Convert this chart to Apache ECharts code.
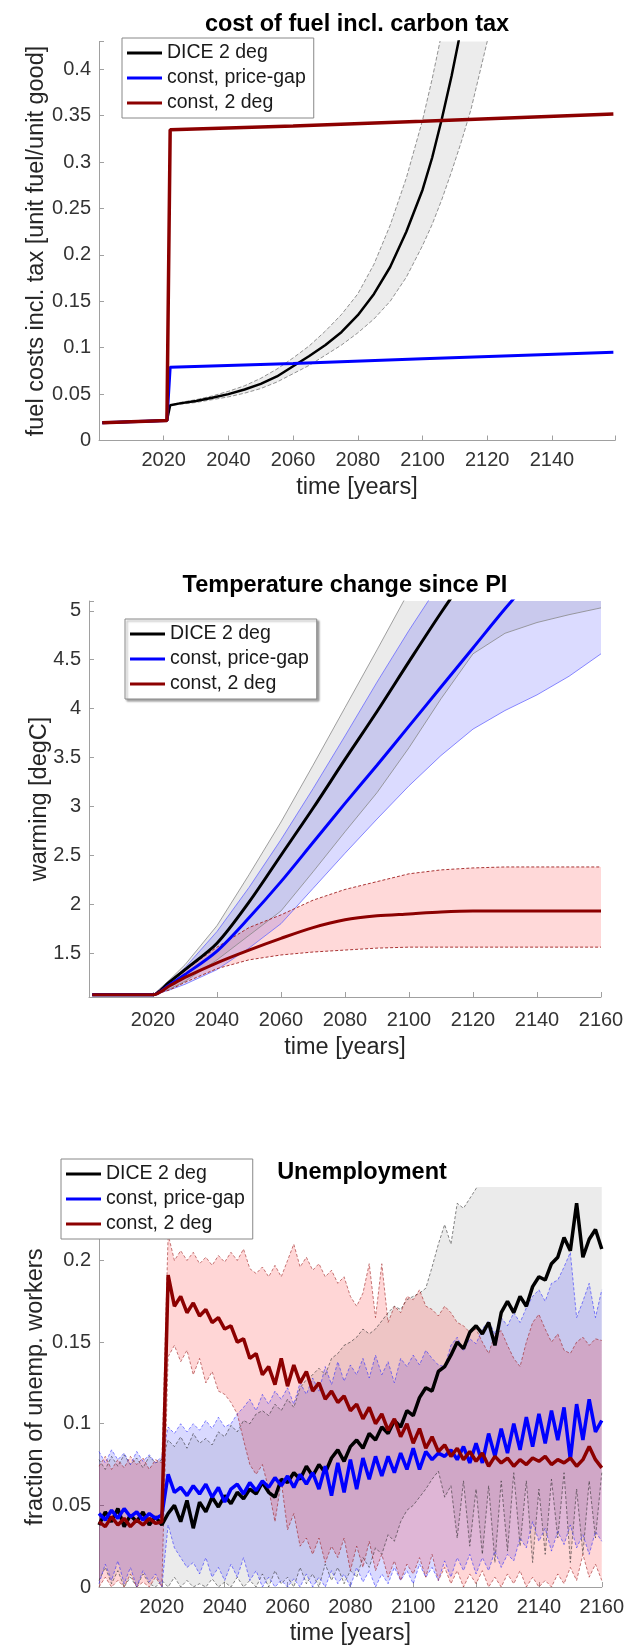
<!DOCTYPE html>
<html>
<head>
<meta charset="utf-8">
<script src="https://cdn.jsdelivr.net/npm/echarts@6/dist/echarts.min.js"></script>
<style>
  html, body { margin: 0; padding: 0; background: #fff; }
  #chart { width: 627px; height: 1647px; }
</style>
</head>
<body>
<div id="chart"></div>
<script>
// ---------- panel 1: cost of fuel incl. carbon tax ----------
const fuelYears  = [2001, 2021, 2022, 2025, 2030, 2035, 2040, 2045, 2050, 2055, 2060, 2065, 2070, 2075, 2080,
                    2085, 2090, 2095, 2100, 2103, 2106, 2109, 2112, 2115, 2120, 2130, 2140, 2150, 2159];
const fuelDice   = [0.019, 0.0215, 0.038, 0.040, 0.0425, 0.046, 0.050, 0.055, 0.061, 0.069, 0.080, 0.091, 0.103, 0.117, 0.135,
                    0.158, 0.187, 0.225, 0.270, 0.305, 0.347, 0.393, 0.445, 0.50, 0.62, 0.95, 1.4, 2.1, 3.0];
const fuelDiceHi = [0.019, 0.0215, 0.038, 0.041, 0.044, 0.048, 0.053, 0.059, 0.067, 0.077, 0.089, 0.102, 0.118, 0.136, 0.158,
                    0.190, 0.232, 0.283, 0.345, 0.390, 0.440, 0.50, 0.56, 0.65, 0.80, 1.2, 1.7, 2.4, 3.4];
const fuelDiceLo = [0.019, 0.0215, 0.038, 0.039, 0.041, 0.044, 0.047, 0.051, 0.056, 0.063, 0.072, 0.081, 0.092, 0.103, 0.116,
                    0.131, 0.150, 0.176, 0.210, 0.233, 0.260, 0.290, 0.322, 0.357, 0.430, 0.62, 0.90, 1.3, 1.8];
const fuelFlatYears = [2001, 2021, 2022, 2060, 2100, 2159];
const fuelGap    = [0.019, 0.0215, 0.079, 0.083, 0.088, 0.095];
const fuel2deg   = [0.019, 0.0215, 0.335, 0.339, 0.344, 0.352];

// ---------- panel 2: temperature change since PI ----------
const tempYears  = [2001, 2020, 2025, 2030, 2040, 2050, 2060, 2070, 2080, 2090, 2100, 2110, 2120, 2130, 2140, 2150, 2160];
const tempDice   = [1.072, 1.072, 1.20, 1.33, 1.60, 2.02, 2.50, 2.98, 3.48, 3.97, 4.48, 4.98, 5.45, 5.90, 6.30, 6.70, 7.10];
const tempDiceHi = [1.072, 1.072, 1.22, 1.38, 1.78, 2.30, 2.84, 3.42, 4.01, 4.60, 5.20, 5.70, 6.20, 6.60, 7.00, 7.40, 7.80];
const tempDiceLo = [1.072, 1.072, 1.13, 1.21, 1.43, 1.68, 1.93, 2.33, 2.74, 3.14, 3.60, 4.10, 4.56, 4.77, 4.88, 4.96, 5.03];
const tempGap    = [1.072, 1.072, 1.17, 1.28, 1.52, 1.86, 2.23, 2.63, 3.03, 3.42, 3.82, 4.22, 4.62, 5.02, 5.40, 5.80, 6.20];
const tempGapHi  = [1.072, 1.072, 1.20, 1.35, 1.72, 2.17, 2.66, 3.18, 3.72, 4.27, 4.80, 5.30, 5.80, 6.30, 6.80, 7.20, 7.60];
const tempGapLo  = [1.072, 1.072, 1.12, 1.18, 1.33, 1.55, 1.80, 2.16, 2.52, 2.87, 3.21, 3.52, 3.79, 3.98, 4.14, 4.33, 4.56];
const temp2deg   = [1.072, 1.072, 1.16, 1.25, 1.40, 1.53, 1.65, 1.76, 1.84, 1.88, 1.90, 1.92, 1.93, 1.93, 1.93, 1.93, 1.93];
const temp2degHi = [1.072, 1.072, 1.20, 1.32, 1.56, 1.76, 1.89, 2.04, 2.15, 2.23, 2.31, 2.35, 2.37, 2.38, 2.38, 2.38, 2.38];
const temp2degLo = [1.072, 1.072, 1.12, 1.20, 1.34, 1.43, 1.48, 1.51, 1.53, 1.55, 1.56, 1.56, 1.56, 1.56, 1.56, 1.56, 1.56];

// ---------- panel 3: unemployment (every 2 years) ----------
const unYears = [
  2000, 2002, 2004, 2006, 2008, 2010, 2012, 2014, 2016, 2018,
  2020, 2022, 2024, 2026, 2028, 2030, 2032, 2034, 2036, 2038,
  2040, 2042, 2044, 2046, 2048, 2050, 2052, 2054, 2056, 2058,
  2060, 2062, 2064, 2066, 2068, 2070, 2072, 2074, 2076, 2078,
  2080, 2082, 2084, 2086, 2088, 2090, 2092, 2094, 2096, 2098,
  2100, 2102, 2104, 2106, 2108, 2110, 2112, 2114, 2116, 2118,
  2120, 2122, 2124, 2126, 2128, 2130, 2132, 2134, 2136, 2138,
  2140, 2142, 2144, 2146, 2148, 2150, 2152, 2154, 2156, 2158,
  2160];
const unDice = [
  0.038, 0.046, 0.040, 0.048, 0.037, 0.044, 0.040, 0.046, 0.038, 0.043,
  0.038, 0.045, 0.050, 0.040, 0.053, 0.036, 0.052, 0.046, 0.055, 0.049,
  0.056, 0.051, 0.058, 0.054, 0.060, 0.057, 0.064, 0.058, 0.055, 0.066,
  0.064, 0.070, 0.066, 0.074, 0.068, 0.075, 0.070, 0.079, 0.084, 0.077,
  0.086, 0.090, 0.085, 0.094, 0.090, 0.098, 0.094, 0.102, 0.098, 0.108,
  0.105, 0.116, 0.122, 0.120, 0.132, 0.135, 0.142, 0.150, 0.146, 0.156,
  0.160, 0.155, 0.162, 0.148, 0.168, 0.175, 0.168, 0.178, 0.172, 0.184,
  0.190, 0.188, 0.198, 0.202, 0.214, 0.206, 0.235, 0.202, 0.213, 0.219,
  0.207];
const unDiceHi = [
  0.078, 0.072, 0.080, 0.074, 0.081, 0.075, 0.079, 0.073, 0.080, 0.076,
  0.078, 0.090, 0.086, 0.092, 0.085, 0.094, 0.088, 0.091, 0.087, 0.095,
  0.092, 0.099, 0.095, 0.102, 0.100, 0.106, 0.108, 0.105, 0.112, 0.108,
  0.115, 0.110, 0.122, 0.127, 0.130, 0.134, 0.130, 0.140, 0.143, 0.148,
  0.150, 0.153, 0.158, 0.155, 0.158, 0.163, 0.168, 0.172, 0.170, 0.176,
  0.178, 0.180, 0.183, 0.196, 0.210, 0.222, 0.210, 0.235, 0.232, 0.238,
  0.244, 0.255, 0.262, 0.270, 0.280, 0.285, 0.290, 0.295, 0.300, 0.305,
  0.310, 0.312, 0.315, 0.318, 0.320, 0.322, 0.325, 0.328, 0.330, 0.332,
  0.335];
const unDiceLo = [
  0.004, 0.012, 0.002, 0.010, 0.000, 0.006, 0.000, 0.008, 0.002, 0.000,
  0.004, 0.000, 0.006, 0.000, 0.004, 0.000, 0.002, 0.000, 0.005, 0.000,
  0.003, 0.000, 0.006, 0.000, 0.004, 0.000, 0.008, 0.000, 0.010, 0.002,
  0.006, 0.000, 0.012, 0.002, 0.008, 0.000, 0.014, 0.004, 0.012, 0.002,
  0.010, 0.006, 0.018, 0.012, 0.024, 0.020, 0.032, 0.028, 0.040, 0.047,
  0.050, 0.055, 0.060, 0.066, 0.071, 0.055, 0.062, 0.030, 0.065, 0.025,
  0.060, 0.020, 0.062, 0.015, 0.065, 0.022, 0.070, 0.025, 0.065, 0.015,
  0.060, 0.020, 0.066, 0.030, 0.070, 0.015, 0.060, 0.020, 0.065, 0.030,
  0.070];
const unGap = [
  0.045, 0.041, 0.047, 0.042, 0.048, 0.043, 0.046, 0.041, 0.045, 0.042,
  0.044, 0.069, 0.058, 0.061, 0.056, 0.062, 0.057, 0.063, 0.055, 0.061,
  0.052, 0.060, 0.063, 0.057, 0.064, 0.059, 0.065, 0.061, 0.067, 0.062,
  0.068, 0.061, 0.069, 0.063, 0.070, 0.060, 0.074, 0.056, 0.076, 0.058,
  0.078, 0.060, 0.079, 0.066, 0.080, 0.068, 0.080, 0.070, 0.082, 0.072,
  0.085, 0.072, 0.083, 0.078, 0.082, 0.080, 0.084, 0.078, 0.086, 0.076,
  0.088, 0.076, 0.094, 0.080, 0.097, 0.082, 0.100, 0.084, 0.104, 0.086,
  0.106, 0.088, 0.108, 0.090, 0.110, 0.078, 0.112, 0.090, 0.115, 0.095,
  0.102];
const unGapHi = [
  0.083, 0.076, 0.084, 0.078, 0.082, 0.075, 0.083, 0.077, 0.081, 0.076,
  0.080, 0.098, 0.094, 0.100, 0.095, 0.100, 0.096, 0.102, 0.097, 0.104,
  0.098, 0.100, 0.106, 0.110, 0.115, 0.108, 0.118, 0.112, 0.120, 0.115,
  0.122, 0.112, 0.125, 0.118, 0.128, 0.120, 0.135, 0.124, 0.138, 0.126,
  0.136, 0.130, 0.140, 0.128, 0.142, 0.130, 0.138, 0.125, 0.140, 0.135,
  0.142, 0.136, 0.145, 0.140, 0.136, 0.135, 0.148, 0.153, 0.145, 0.152,
  0.149, 0.158, 0.163, 0.155, 0.165, 0.160, 0.168, 0.162, 0.171, 0.178,
  0.182, 0.175, 0.186, 0.188, 0.196, 0.205, 0.165, 0.175, 0.186, 0.165,
  0.182];
const unGapLo = [
  0.002, 0.014, 0.004, 0.016, 0.002, 0.012, 0.000, 0.010, 0.003, 0.008,
  0.000, 0.038, 0.024, 0.018, 0.012, 0.015, 0.008, 0.018, 0.006, 0.012,
  0.004, 0.014, 0.006, 0.018, 0.004, 0.010, 0.000, 0.006, 0.000, 0.004,
  0.000, 0.005, 0.000, 0.008, 0.000, 0.006, 0.000, 0.010, 0.002, 0.008,
  0.000, 0.012, 0.003, 0.010, 0.000, 0.008, 0.002, 0.012, 0.004, 0.010,
  0.002, 0.014, 0.006, 0.012, 0.004, 0.016, 0.006, 0.018, 0.010, 0.020,
  0.008, 0.018, 0.010, 0.022, 0.012, 0.020, 0.016, 0.030, 0.024, 0.040,
  0.028, 0.036, 0.022, 0.034, 0.026, 0.038, 0.024, 0.032, 0.020, 0.034,
  0.028];
const un2deg = [
  0.040, 0.037, 0.043, 0.038, 0.042, 0.037, 0.041, 0.038, 0.042, 0.039,
  0.040, 0.191, 0.172, 0.178, 0.168, 0.174, 0.166, 0.170, 0.162, 0.165,
  0.158, 0.160, 0.150, 0.152, 0.140, 0.143, 0.130, 0.135, 0.124, 0.140,
  0.123, 0.136, 0.125, 0.132, 0.120, 0.125, 0.115, 0.120, 0.113, 0.117,
  0.108, 0.112, 0.103, 0.110, 0.100, 0.106, 0.096, 0.103, 0.092, 0.100,
  0.088, 0.097, 0.085, 0.092, 0.083, 0.087, 0.080, 0.085, 0.078, 0.083,
  0.077, 0.082, 0.074, 0.080, 0.076, 0.079, 0.074, 0.078, 0.075, 0.079,
  0.077, 0.080, 0.075, 0.078, 0.076, 0.079, 0.074, 0.078, 0.086, 0.078,
  0.073];
const un2degHi = [
  0.074, 0.080, 0.072, 0.078, 0.073, 0.080, 0.075, 0.079, 0.072, 0.078,
  0.076, 0.216, 0.200, 0.206, 0.200, 0.205, 0.198, 0.202, 0.197, 0.203,
  0.199, 0.205, 0.200, 0.207, 0.195, 0.192, 0.196, 0.190, 0.197, 0.190,
  0.200, 0.210, 0.196, 0.202, 0.194, 0.198, 0.190, 0.194, 0.186, 0.190,
  0.178, 0.172, 0.180, 0.198, 0.165, 0.198, 0.162, 0.172, 0.168, 0.178,
  0.176, 0.182, 0.172, 0.170, 0.166, 0.172, 0.168, 0.162, 0.160, 0.156,
  0.158, 0.150, 0.143, 0.155, 0.157, 0.148, 0.140, 0.135, 0.150, 0.162,
  0.167, 0.158, 0.150, 0.155, 0.145, 0.143, 0.150, 0.153, 0.148, 0.152,
  0.151];
const un2degLo = [
  0.000, 0.006, 0.000, 0.004, 0.000, 0.008, 0.000, 0.003, 0.000, 0.006,
  0.000, 0.141, 0.148, 0.138, 0.145, 0.130, 0.140, 0.125, 0.132, 0.120,
  0.118, 0.113, 0.106, 0.090, 0.075, 0.069, 0.075, 0.060, 0.040, 0.065,
  0.035, 0.045, 0.025, 0.030, 0.020, 0.030, 0.015, 0.025, 0.018, 0.030,
  0.010, 0.025, 0.012, 0.028, 0.010, 0.020, 0.006, 0.016, 0.004, 0.014,
  0.008, 0.018, 0.006, 0.020, 0.004, 0.012, 0.002, 0.010, 0.000, 0.008,
  0.002, 0.010, 0.000, 0.006, 0.000, 0.008, 0.002, 0.010, 0.000, 0.006,
  0.000, 0.004, 0.000, 0.008, 0.002, 0.012, 0.004, 0.020, 0.006, 0.014,
  0.004];

const legendNames = ['DICE 2 deg', 'const, price-gap', 'const, 2 deg'];

const FONT = '"Liberation Sans", Arial, Helvetica, sans-serif';
const BLACK = '#000000';
const BLUE = '#0000ff';
const RED = '#8c0000';
const AXIS = '#a0a0a0';

const pairs = (xs, ys) => xs.map((x, i) => [x, ys[i]]);

const isStep = (v, step) => Math.abs(v / step - Math.round(v / step)) < 1e-6;

const mainLine = (name, idx, xs, ys, color, width) => ({
  name, type: 'line', xAxisIndex: idx, yAxisIndex: idx,
  data: pairs(xs, ys), symbol: 'none', z: 5,
  lineStyle: { color, width }, itemStyle: { color }
});

const edgeLine = (idx, xs, ys, color, type, width) => ({
  type: 'line', xAxisIndex: idx, yAxisIndex: idx,
  data: pairs(xs, ys), symbol: 'none', z: 3, silent: true,
  lineStyle: { color, width, type }
});

// filled band between lo and hi, drawn as one polygon through the axis scales
const band = (idx, xs, lo, hi, fill) => ({
  type: 'custom', xAxisIndex: idx, yAxisIndex: idx, clip: true, silent: true, z: 1,
  data: [[xs[0], lo[0]]],
  renderItem: (params, api) => {
    const pts = [];
    for (let i = 0; i < xs.length; i++) pts.push(api.coord([xs[i], hi[i]]));
    for (let i = xs.length - 1; i >= 0; i--) pts.push(api.coord([xs[i], lo[i]]));
    return { type: 'polygon', shape: { points: pts }, style: { fill } };
  }
});

const xAxisCfg = (idx, max, margin, nameGap) => ({
  type: 'value', gridIndex: idx, min: 2000, max, interval: 20,
  name: 'time [years]', nameLocation: 'middle', nameGap, nameMoveOverlap: false,
  nameTextStyle: { fontSize: 23.5, color: '#262626', fontFamily: FONT },
  axisLine: { lineStyle: { color: AXIS, width: 1 } },
  axisTick: { inside: true, length: 5, lineStyle: { color: AXIS } },
  axisLabel: {
    fontSize: 20, color: '#333', fontFamily: FONT, margin,
    formatter: v => (isStep(v, 20) && v > 2000) ? String(v) : ''
  },
  splitLine: { show: false }
});

const yAxisCfg = (idx, name, min, max, step, nameGap, extra) => Object.assign({
  type: 'value', gridIndex: idx, min, max,
  name, nameLocation: 'middle', nameGap, nameMoveOverlap: false,
  nameTextStyle: { fontSize: 23.5, color: '#262626', fontFamily: FONT },
  axisLine: { show: true, lineStyle: { color: AXIS, width: 1 } },
  axisTick: { show: true, inside: true, length: 5, lineStyle: { color: AXIS } },
  axisLabel: {
    fontSize: 20, color: '#333', fontFamily: FONT, margin: 8,
    formatter: v => isStep(v, step) ? String(+v.toFixed(3)) : ''
  },
  splitLine: { show: false }
}, extra);

const legendCfg = (left, top, shadow) => ({
  data: legendNames, orient: 'vertical', left, top, z: 10,
  icon: 'rect', itemWidth: 35, itemHeight: 3, itemGap: 5, itemTextGap: 4,
  padding: [5, 8, 5, 5],
  backgroundColor: '#fff', borderColor: '#888', borderWidth: 1,
  shadowColor: shadow ? 'rgba(0,0,0,0.35)' : 'transparent',
  shadowBlur: shadow ? 2 : 0, shadowOffsetX: shadow ? 2 : 0, shadowOffsetY: shadow ? 2 : 0,
  textStyle: { fontSize: 19.5, color: '#1a1a1a', fontFamily: FONT },
  selectedMode: false
});

const titleCfg = (text, left, top) => ({
  text, left, top, textAlign: 'center', padding: 0,
  textStyle: { fontSize: 23.5, fontWeight: 'bold', color: '#000', fontFamily: FONT }
});

const option = {
  animation: false,
  backgroundColor: '#fff',
  title: [
    titleCfg('cost of fuel incl. carbon tax', 357, 13),
    titleCfg('Temperature change since PI', 345, 574),
    titleCfg('Unemployment', 362, 1161)
  ],
  legend: [legendCfg(122, 38, false), legendCfg(125, 619, true), legendCfg(61, 1159, false)],
  grid: [
    { left: 99, top: 41.5, width: 516, height: 399 },
    { left: 89, top: 601, width: 512, height: 396 },
    { left: 99, top: 1187, width: 513, height: 400 }
  ],
  xAxis: [
    xAxisCfg(0, 2159.5, 10, 35),
    xAxisCfg(1, 2160, 13, 39),
    xAxisCfg(2, 2160, 10, 35)
  ],
  yAxis: [
    yAxisCfg(0, 'fuel costs incl. tax [unit fuel/unit good]', 0, 0.43, 0.05, 50, { interval: 0.05 }),
    yAxisCfg(1, 'warming [degC]', 1.05, 5.1, 0.5, 37, { splitNumber: 8 }),
    yAxisCfg(2, 'fraction of unemp. workers', 0, 0.245, 0.05, 51, { interval: 0.05 })
  ],
  series: [
    // panel 1
    band(0, fuelYears, fuelDiceLo, fuelDiceHi, 'rgba(0,0,0,0.075)'),
    edgeLine(0, fuelYears, fuelDiceHi, '#777', [4, 2], 0.8),
    edgeLine(0, fuelYears, fuelDiceLo, '#777', [4, 2], 0.8),
    mainLine('DICE 2 deg', 0, fuelYears, fuelDice, BLACK, 2.5),
    mainLine('const, price-gap', 0, fuelFlatYears, fuelGap, BLUE, 3),
    mainLine('const, 2 deg', 0, fuelFlatYears, fuel2deg, RED, 3.5),

    // panel 2
    band(1, tempYears, tempDiceLo, tempDiceHi, 'rgba(0,0,0,0.08)'),
    band(1, tempYears, tempGapLo, tempGapHi, 'rgba(0,0,255,0.14)'),
    band(1, tempYears, temp2degLo, temp2degHi, 'rgba(255,0,0,0.15)'),
    edgeLine(1, tempYears, tempDiceHi, '#888', 'solid', 0.8),
    edgeLine(1, tempYears, tempDiceLo, '#888', 'solid', 0.8),
    edgeLine(1, tempYears, tempGapHi, '#6a6aff', 'solid', 0.8),
    edgeLine(1, tempYears, tempGapLo, '#6a6aff', 'solid', 0.8),
    edgeLine(1, tempYears, temp2degHi, '#a02020', [3, 2], 0.9),
    edgeLine(1, tempYears, temp2degLo, '#a02020', [3, 2], 0.9),
    Object.assign(mainLine('DICE 2 deg', 1, tempYears, tempDice, BLACK, 3), { smooth: 0.3 }),
    Object.assign(mainLine('const, price-gap', 1, tempYears, tempGap, BLUE, 3), { smooth: 0.3 }),
    Object.assign(mainLine('const, 2 deg', 1, tempYears, temp2deg, RED, 3), { smooth: 0.3 }),

    // panel 3
    band(2, unYears, unDiceLo, unDiceHi, 'rgba(0,0,0,0.08)'),
    band(2, unYears, unGapLo, unGapHi, 'rgba(0,0,255,0.15)'),
    band(2, unYears, un2degLo, un2degHi, 'rgba(255,0,0,0.16)'),
    edgeLine(2, unYears, unDiceHi, 'rgba(40,40,40,0.7)', [3, 2], 0.8),
    edgeLine(2, unYears, unDiceLo, 'rgba(40,40,40,0.7)', [3, 2], 0.8),
    edgeLine(2, unYears, unGapHi, 'rgba(40,40,255,0.7)', [3, 2], 0.8),
    edgeLine(2, unYears, unGapLo, 'rgba(40,40,255,0.7)', [3, 2], 0.8),
    edgeLine(2, unYears, un2degHi, 'rgba(150,20,20,0.7)', [3, 2], 0.8),
    edgeLine(2, unYears, un2degLo, 'rgba(150,20,20,0.7)', [3, 2], 0.8),
    mainLine('DICE 2 deg', 2, unYears, unDice, BLACK, 3.5),
    mainLine('const, price-gap', 2, unYears, unGap, BLUE, 3.5),
    mainLine('const, 2 deg', 2, unYears, un2deg, RED, 3.5)
  ]
};

const chart = echarts.init(document.getElementById('chart'));
chart.setOption(option);
</script>
</body>
</html>
